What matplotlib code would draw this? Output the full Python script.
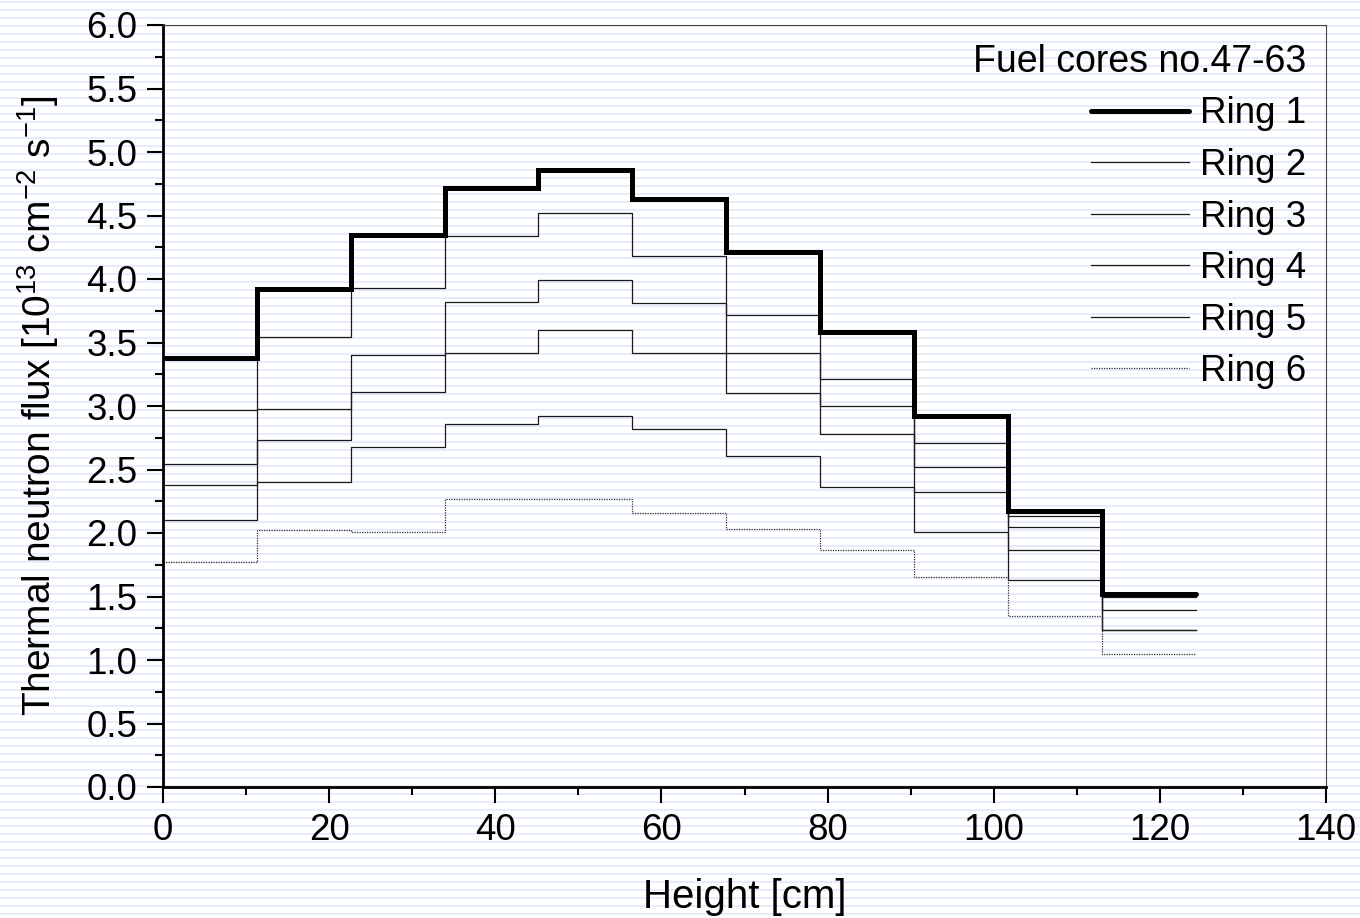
import numpy as np
import matplotlib
matplotlib.use("Agg")
import matplotlib.pyplot as plt
from matplotlib.ticker import MultipleLocator, FormatStrFormatter

plt.rcParams["font.family"] = ["Liberation Sans", "DejaVu Sans"]
plt.rcParams["mathtext.fontset"] = "custom"
plt.rcParams["mathtext.rm"] = "Liberation Sans"
plt.rcParams["mathtext.it"] = "Liberation Sans"

# bin edges along the core height [cm]
edges = [0, 11.3, 22.6, 33.9, 45.2, 56.5, 67.8, 79.1, 90.4, 101.7, 113.0, 124.3]

ring1 = [3.38, 3.92, 4.35, 4.72, 4.86, 4.63, 4.21, 3.58, 2.92, 2.17, 1.52]
ring2 = [2.97, 3.54, 3.93, 4.34, 4.52, 4.18, 3.72, 3.21, 2.71, 2.13, 1.50]
ring3 = [2.54, 2.98, 3.40, 3.82, 3.99, 3.81, 3.42, 3.00, 2.52, 2.05, 1.39]
ring4 = [2.38, 2.73, 3.11, 3.42, 3.60, 3.42, 3.10, 2.78, 2.32, 1.87, 1.24]
ring5 = [2.10, 2.40, 2.68, 2.86, 2.92, 2.82, 2.61, 2.36, 2.01, 1.63, 1.24]
ring6 = [1.77, 2.02, 2.01, 2.27, 2.27, 2.16, 2.03, 1.87, 1.65, 1.35, 1.05]

labels = ["Ring 1", "Ring 2", "Ring 3", "Ring 4", "Ring 5", "Ring 6"]
rings = [ring1, ring2, ring3, ring4, ring5, ring6]

fig = plt.figure(figsize=(13.6, 9.18), dpi=100)

# notebook-like striped background
bg = fig.add_axes([0, 0, 1, 1], zorder=-10)
bg.set_xlim(0, 1360)
bg.set_ylim(918, 0)
bg.hlines(np.arange(2, 918, 8), 0, 1360, color="#dce8f6", lw=1.1)
bg.axis("off")

ax = fig.add_axes([163 / 1360, 1 - 787 / 918, (1326 - 163) / 1360, (787 - 25) / 918])
ax.patch.set_alpha(0)

styles = [
    dict(lw=3.6, color="black", zorder=5, solid_capstyle="round", solid_joinstyle="miter"),
    dict(lw=0.9, color="#1a1a1a"),
    dict(lw=0.9, color="#1a1a1a"),
    dict(lw=0.9, color="#1a1a1a"),
    dict(lw=0.9, color="#1a1a1a"),
    dict(lw=0.9, color="#333333", linestyle=(0, (1, 1))),
]
for vals, lab, st in zip(rings, labels, styles):
    ax.step(edges, np.append(vals, vals[-1]), where="post", label=lab, **st)

ax.set_xlim(0, 140)
ax.set_ylim(0, 6.0)
ax.xaxis.set_major_locator(MultipleLocator(20))
ax.xaxis.set_minor_locator(MultipleLocator(10))
ax.yaxis.set_major_locator(MultipleLocator(0.5))
ax.yaxis.set_minor_locator(MultipleLocator(0.25))
ax.yaxis.set_major_formatter(FormatStrFormatter("%.1f"))
ax.tick_params(which="major", direction="out", length=11.5, width=1.5, labelsize=26.5, pad=7)
ax.tick_params(which="minor", direction="out", length=5.5, width=1.5)

for s in ["left", "bottom"]:
    ax.spines[s].set_linewidth(2.0)
    ax.spines[s].set_color("black")
for s in ["top", "right"]:
    ax.spines[s].set_linewidth(0.8)
    ax.spines[s].set_color("#444444")

ax.set_xlabel("Height [cm]", fontsize=29, labelpad=22)
ax.set_ylabel("Thermal neutron flux [10$^{13}$ cm$^{-2}$ s$^{-1}$]", fontsize=28, labelpad=18)

leg = ax.legend(title="Fuel cores no.47-63", loc="upper right", frameon=False,
                fontsize=26.5, title_fontsize=27, handlelength=2.64, handletextpad=0.3,
                labelspacing=0.45, alignment="right", borderaxespad=0.05,
                bbox_to_anchor=(0.997, 0.997))

fig.savefig("out.png", dpi=100)
